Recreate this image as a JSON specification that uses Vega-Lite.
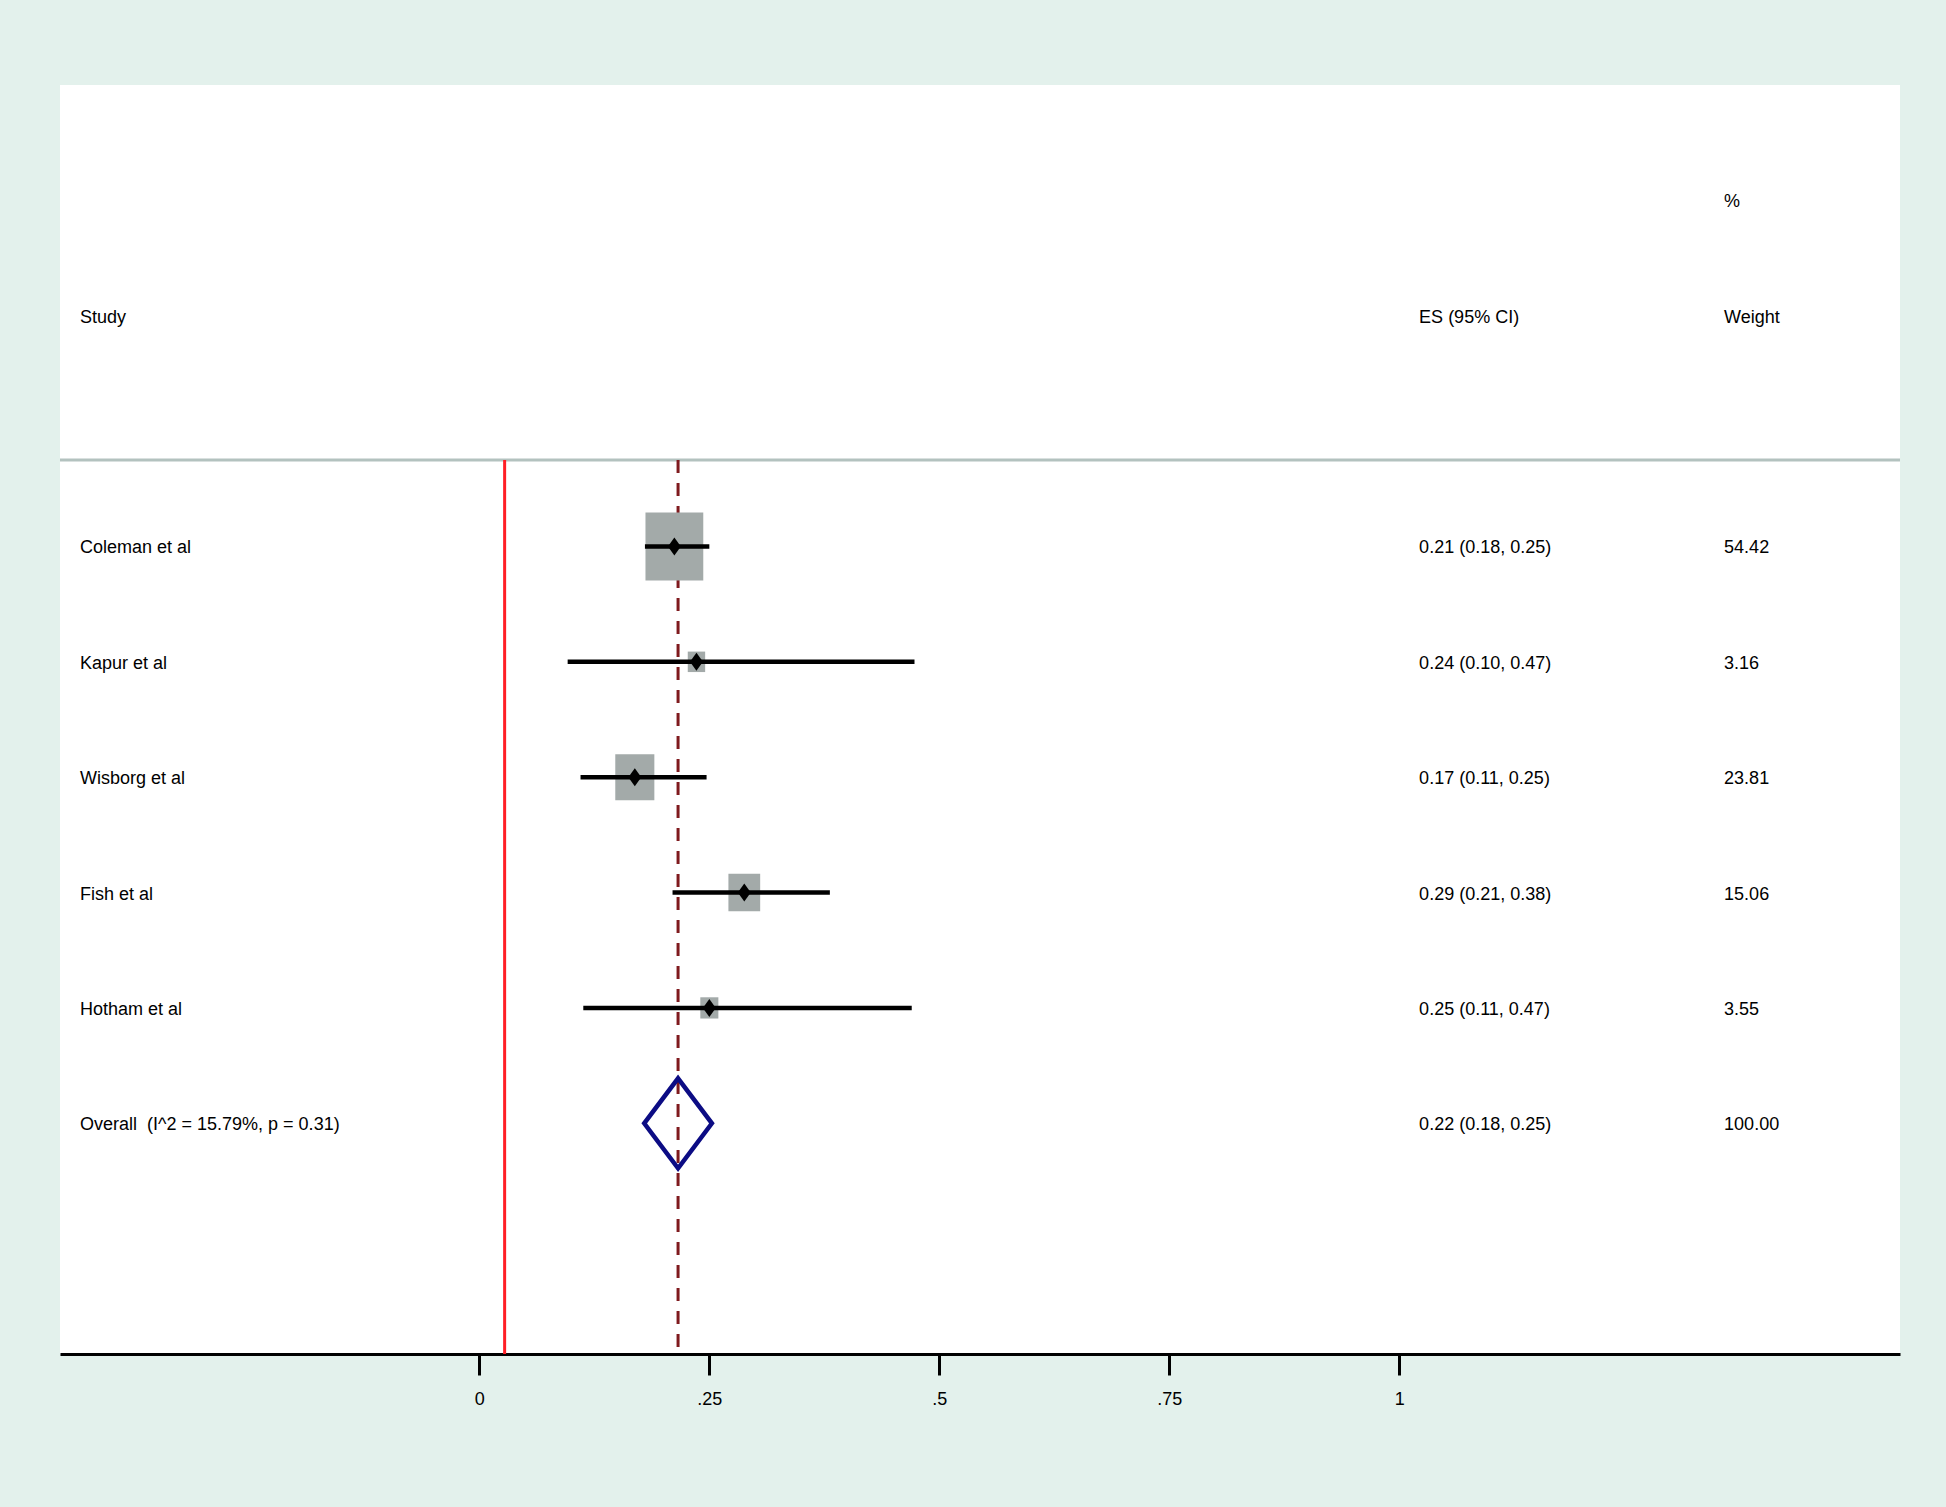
{
  "$schema": "https://vega.github.io/schema/vega-lite/v6.json",
  "width": 1840,
  "height": 1269,
  "autosize": {"type": "none"},
  "padding": {"left": 60, "top": 85, "right": 46, "bottom": 153},
  "background": "#e3f1ec",
  "config": {
    "view": {"fill": "white", "stroke": null},
    "text": {"font": "Liberation Sans", "fontSize": 18, "color": "black"},
    "axis": {"grid": false}
  },
  "data": {
    "values": [
      {"row": 1, "study": "", "es_text": "", "weight_text": "%", "kind": "header"},
      {"row": 2, "study": "Study", "es_text": "ES (95% CI)", "weight_text": "Weight", "kind": "header"},
      {"row": 4, "study": "Coleman et al", "es": 0.212, "lo": 0.18, "hi": 0.25, "weight": 54.42, "es_text": "0.21 (0.18, 0.25)", "weight_text": "54.42", "kind": "study"},
      {"row": 5, "study": "Kapur et al", "es": 0.236, "lo": 0.096, "hi": 0.473, "weight": 3.16, "es_text": "0.24 (0.10, 0.47)", "weight_text": "3.16", "kind": "study"},
      {"row": 6, "study": "Wisborg et al", "es": 0.169, "lo": 0.11, "hi": 0.247, "weight": 23.81, "es_text": "0.17 (0.11, 0.25)", "weight_text": "23.81", "kind": "study"},
      {"row": 7, "study": "Fish et al", "es": 0.288, "lo": 0.21, "hi": 0.381, "weight": 15.06, "es_text": "0.29 (0.21, 0.38)", "weight_text": "15.06", "kind": "study"},
      {"row": 8, "study": "Hotham et al", "es": 0.25, "lo": 0.113, "hi": 0.47, "weight": 3.55, "es_text": "0.25 (0.11, 0.47)", "weight_text": "3.55", "kind": "study"},
      {"row": 9, "study": "Overall\u00a0 (I^2 = 15.79%, p = 0.31)", "es": 0.216, "lo": 0.18, "hi": 0.253, "weight": 100, "es_text": "0.22 (0.18, 0.25)", "weight_text": "100.00", "kind": "overall"}
    ]
  },
  "layer": [
    {
      "data": {"values": [{}]},
      "mark": {"type": "rule", "color": "#b3c2bf", "strokeWidth": 3},
      "encoding": {
        "y": {"datum": 3.25, "type": "quantitative", "scale": {"domain": [0, 11], "reverse": true, "nice": false, "zero": false}, "axis": null}
      }
    },
    {
      "data": {"values": [{}]},
      "mark": {"type": "rule", "color": "#ff1f26", "strokeWidth": 3},
      "encoding": {
        "x": {"datum": 0.0275, "type": "quantitative", "scale": {"domain": [-0.4558, 1.5442], "nice": false, "zero": false}},
        "y": {"datum": 3.25, "type": "quantitative", "scale": {"domain": [0, 11], "reverse": true, "nice": false, "zero": false}, "axis": null},
        "y2": {"datum": 11}
      }
    },
    {
      "data": {"values": [{}]},
      "mark": {"type": "rule", "color": "#7f1a1e", "strokeWidth": 3, "strokeDash": [13, 10]},
      "encoding": {
        "x": {"datum": 0.216, "type": "quantitative"},
        "y": {"datum": 3.25, "type": "quantitative", "axis": null},
        "y2": {"datum": 11}
      }
    },
    {
      "transform": [{"filter": "datum.kind == 'study'"}],
      "mark": {"type": "point", "shape": "M-0.85,-1L0.85,-1L0.85,1L-0.85,1Z", "filled": true, "color": "#a3aaa9", "opacity": 1},
      "encoding": {
        "x": {"field": "es", "type": "quantitative"},
        "y": {"field": "row", "type": "quantitative", "axis": null},
        "size": {"field": "weight", "type": "quantitative", "scale": {"type": "linear", "domain": [0, 54.42], "range": [160, 4624], "zero": false}, "legend": null}
      }
    },
    {
      "transform": [{"filter": "datum.kind == 'study'"}],
      "mark": {"type": "rule", "color": "black", "strokeWidth": 4.5},
      "encoding": {
        "x": {"field": "lo", "type": "quantitative"},
        "x2": {"field": "hi"},
        "y": {"field": "row", "type": "quantitative", "axis": null}
      }
    },
    {
      "transform": [{"filter": "datum.kind == 'study'"}],
      "mark": {"type": "point", "shape": "M0,-1L0.72,0L0,1L-0.72,0Z", "filled": true, "color": "black", "opacity": 1, "size": 324},
      "encoding": {
        "x": {"field": "es", "type": "quantitative"},
        "y": {"field": "row", "type": "quantitative", "axis": null}
      }
    },
    {
      "transform": [{"filter": "datum.kind == 'overall'"}],
      "mark": {"type": "point", "shape": "M0,-1L0.752,0L0,1L-0.752,0Z", "filled": false, "stroke": "#0c0c84", "strokeWidth": 4.5, "opacity": 1, "size": 8100},
      "encoding": {
        "x": {"field": "es", "type": "quantitative",
          "axis": {
            "values": [0, 0.25, 0.5, 0.75, 1],
            "format": ".2~f",
            "labelExpr": "replace(datum.label, '0.', '.')",
            "title": null,
            "domainColor": "black",
            "domainWidth": 3,
            "tickColor": "black",
            "tickWidth": 3,
            "tickSize": 21,
            "labelFont": "Liberation Sans",
            "labelFontSize": 18,
            "labelColor": "black",
            "labelPadding": 15,
            "labelFlush": false,
            "labelOverlap": false
          }
        },
        "y": {"field": "row", "type": "quantitative", "axis": null}
      }
    },
    {
      "mark": {"type": "text", "align": "left", "baseline": "middle", "dy": 2},
      "encoding": {
        "x": {"datum": -0.434, "type": "quantitative"},
        "y": {"field": "row", "type": "quantitative", "axis": null},
        "text": {"field": "study"}
      }
    },
    {
      "mark": {"type": "text", "align": "left", "baseline": "middle", "dy": 2},
      "encoding": {
        "x": {"datum": 1.0215, "type": "quantitative"},
        "y": {"field": "row", "type": "quantitative", "axis": null},
        "text": {"field": "es_text"}
      }
    },
    {
      "mark": {"type": "text", "align": "left", "baseline": "middle", "dy": 2},
      "encoding": {
        "x": {"datum": 1.353, "type": "quantitative"},
        "y": {"field": "row", "type": "quantitative", "axis": null},
        "text": {"field": "weight_text"}
      }
    }
  ]
}
